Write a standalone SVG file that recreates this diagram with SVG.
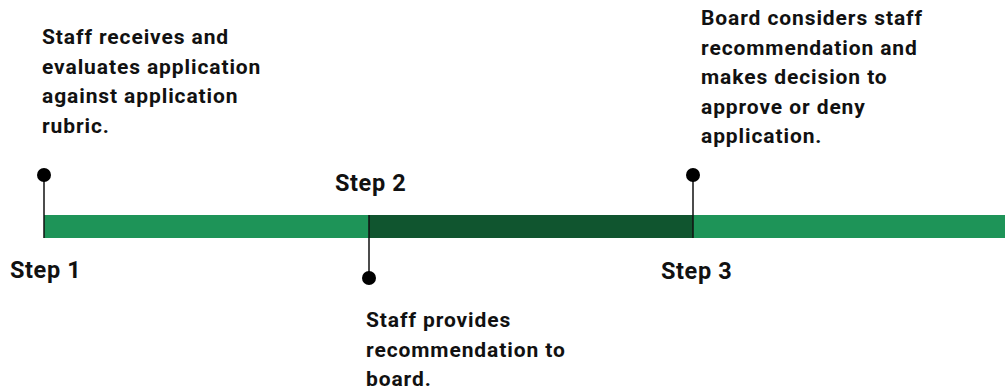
<svg xmlns="http://www.w3.org/2000/svg" width="1005" height="389" viewBox="0 0 1005 389">
<style>
.t{font-family:Roboto,"Liberation Sans",sans-serif;font-weight:bold;font-size:21px;letter-spacing:0.9px;fill:#111}
.s{font-family:Roboto,"Liberation Sans",sans-serif;font-weight:bold;font-size:23.5px;letter-spacing:0.6px;fill:#111}
.stem{stroke:#111;stroke-width:1.5}
.dot{fill:#000}
</style>
<rect width="1005" height="389" fill="#fff"/>
<g id="bar">
<rect x="44" y="215" width="961" height="23" fill="#1e9458"/>
<rect x="369" y="215" width="324" height="23" fill="#10552f"/>
</g>
<g id="connectors">
<line class="stem" x1="44" y1="175" x2="44" y2="238"/>
<line class="stem" x1="369" y1="215" x2="369" y2="278"/>
<line class="stem" x1="693" y1="175" x2="693" y2="238"/>
</g>
<g id="step1">
<circle class="dot" cx="44" cy="175" r="7"/>
<text class="s" x="10" y="278">Step 1</text>
<text class="t"><tspan x="42" y="44">Staff receives and</tspan><tspan x="42" y="73.5">evaluates application</tspan><tspan x="42" y="103">against application</tspan><tspan x="42" y="132.5">rubric.</tspan></text>
</g>
<g id="step2">
<circle class="dot" cx="369" cy="278" r="7"/>
<text class="s" x="335" y="191">Step 2</text>
<text class="t"><tspan x="366" y="327">Staff provides</tspan><tspan x="366" y="356.5">recommendation to</tspan><tspan x="366" y="386">board.</tspan></text>
</g>
<g id="step3">
<circle class="dot" cx="693" cy="175" r="7"/>
<text class="s" x="661" y="279">Step 3</text>
<text class="t"><tspan x="701" y="25">Board considers staff</tspan><tspan x="701" y="54.5">recommendation and</tspan><tspan x="701" y="84">makes decision to</tspan><tspan x="701" y="113.5">approve or deny</tspan><tspan x="701" y="143">application.</tspan></text>
</g>
</svg>
